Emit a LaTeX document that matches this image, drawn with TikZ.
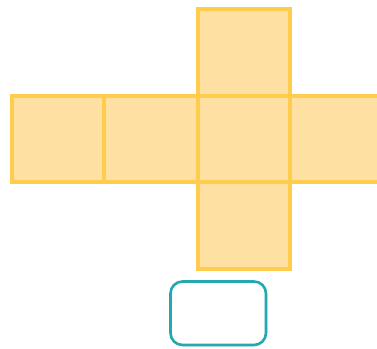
\documentclass[tikz,border=0pt]{standalone}
\usetikzlibrary{shadows.blur}
\definecolor{facefill}{HTML}{FDE0A2}
\definecolor{faceline}{HTML}{FFCC4D}
\definecolor{tealline}{HTML}{22A8AE}
\tikzset{
  face/.style={fill=facefill, draw=faceline, line width=4pt, line join=miter},
  answerbox/.style={draw=tealline, fill=white, line width=2.6pt, rounded corners=12pt,
    blur shadow={shadow xshift=0pt, shadow yshift=0pt, shadow blur steps=8, shadow blur extra rounding=2pt, shadow opacity=25}}
}
\begin{document}
\begin{tikzpicture}[x=1pt,y=-1pt]
\useasboundingbox (0,0) rectangle (377,348);
\clip (0,0) rectangle (377,348);
% row faces
\path[face] (11.5,95.5) rectangle (104,181.5) node[midway] (f1) {};
\path[face] (104,95.5) rectangle (197.5,181.5) node[midway] (f2) {};
\path[face] (289.5,95.5) rectangle (392,181.5) node[midway] (f4) {};
\path[face] (197.5,9) rectangle (289.5,95.5) node[midway] (f0) {};
\path[face] (197.5,181.5) rectangle (289.5,268.5) node[midway] (f5) {};
\path[face] (197.5,95.5) rectangle (289.5,181.5) node[midway] (f3) {};
% answer box
\path[answerbox] (170.5,281.5) rectangle (266,345) node[midway] (ans) {};
\end{tikzpicture}
\end{document}
